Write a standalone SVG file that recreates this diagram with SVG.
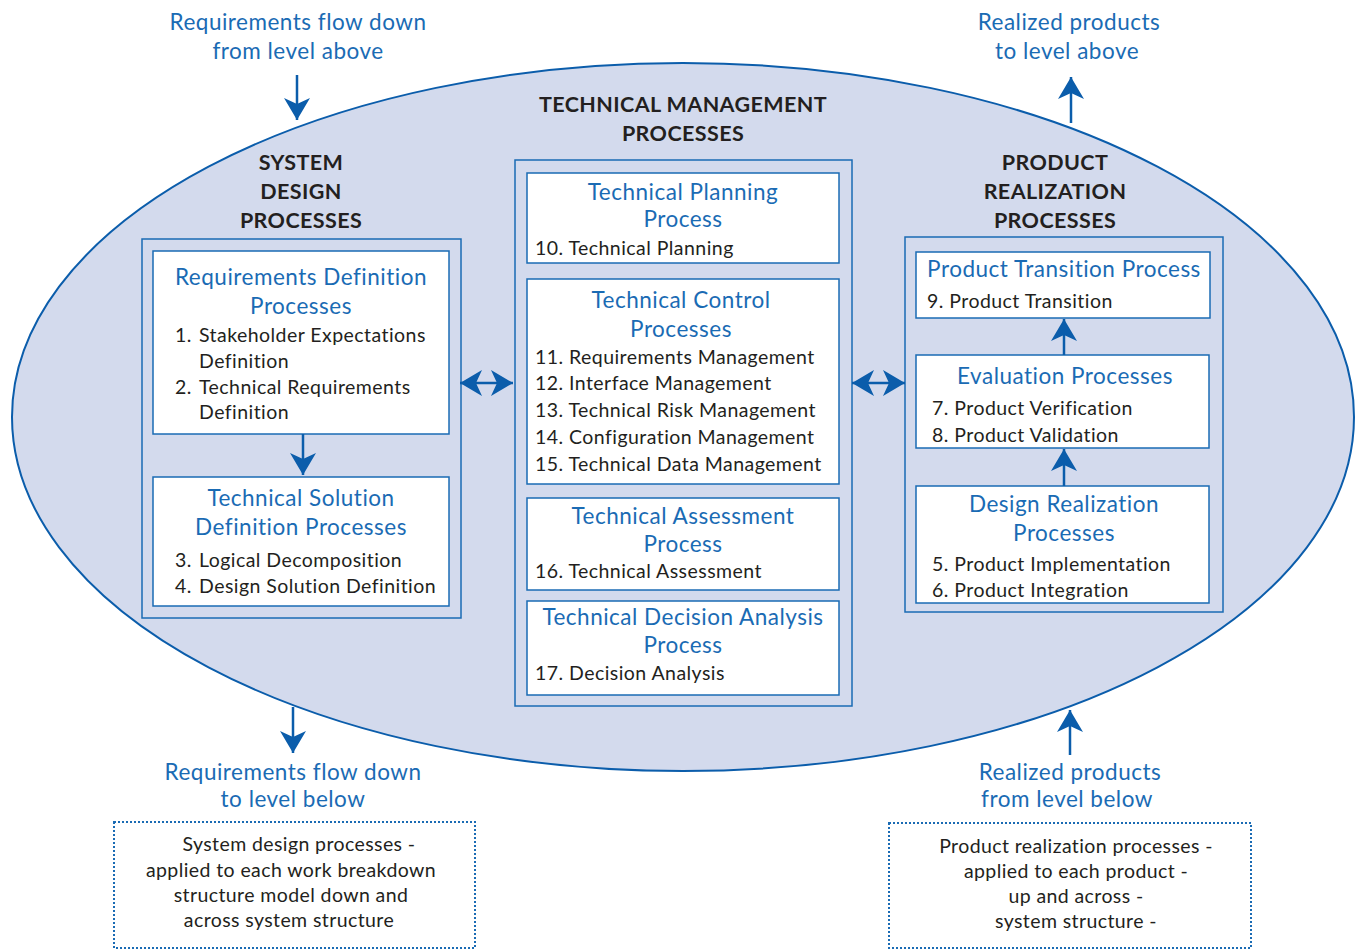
<svg xmlns="http://www.w3.org/2000/svg" width="1357" height="950" viewBox="0 0 1357 950">
<defs>
<marker id="ah" markerUnits="userSpaceOnUse" viewBox="0 0 22 26" refX="22" refY="13" markerWidth="22" markerHeight="26" orient="auto-start-reverse">
<path d="M0,0 L22,13 L0,26 L6,13 Z" fill="#0b5dab"/>
</marker>
<style>
.t{font-family:Lato,"Liberation Sans",sans-serif;}
.blue{fill:#1a6bb4;font-size:22.5px;letter-spacing:0.5px;}
.head{fill:#231f20;font-size:21.5px;font-weight:bold;letter-spacing:0.4px;}
.item{fill:#231f20;font-size:19.5px;letter-spacing:0.45px;}
.note{fill:#231f20;font-size:19.5px;letter-spacing:0.4px;}
.frame{fill:#d3daed;stroke:#1a6bb4;stroke-width:1.5;}
.box{fill:#ffffff;stroke:#1a6bb4;stroke-width:1.5;}
.dot{fill:#ffffff;stroke:#1a6bb4;stroke-width:2;stroke-dasharray:2 2;}
.conn{stroke:#0b5dab;stroke-width:2.5;fill:none;marker-end:url(#ah);}
.dbl{stroke:#0b5dab;stroke-width:2.5;fill:none;marker-end:url(#ah);marker-start:url(#ah);}
</style>
</defs>
<rect width="1357" height="950" fill="#ffffff"/>
<g id="ellipse">
<ellipse cx="683" cy="417" rx="671" ry="354" fill="#d3daed" stroke="#0b5dab" stroke-width="2"/>
</g>
<g id="top-left-label" class="t">
<text class="blue" text-anchor="middle" x="298" y="30">Requirements flow down</text>
<text class="blue" text-anchor="middle" x="298" y="59">from level above</text>
</g>
<g id="top-right-label" class="t">
<text class="blue" text-anchor="middle" x="1069" y="30">Realized products</text>
<text class="blue" text-anchor="middle" x="1067" y="59">to level above</text>
</g>
<g id="tech-mgmt-title" class="t">
<text class="head" text-anchor="middle" x="683" y="112">TECHNICAL MANAGEMENT</text>
<text class="head" text-anchor="middle" x="683" y="141">PROCESSES</text>
</g>
<g id="system-design" class="t">
<text class="head" text-anchor="middle" x="301" y="170">SYSTEM</text>
<text class="head" text-anchor="middle" x="301" y="199">DESIGN</text>
<text class="head" text-anchor="middle" x="301" y="228">PROCESSES</text>
<rect class="frame" x="142" y="239" width="319" height="379"/>
</g>
<g id="req-def" class="t">
<rect class="box" x="153" y="251" width="296" height="183"/>
<text class="blue" text-anchor="middle" x="301" y="285">Requirements Definition</text>
<text class="blue" text-anchor="middle" x="301" y="314">Processes</text>
<text class="item" x="175" y="342">1.</text><text class="item" x="199" y="342">Stakeholder Expectations</text>
<text class="item" x="199" y="368">Definition</text>
<text class="item" x="175" y="394">2.</text><text class="item" x="199" y="394">Technical Requirements</text>
<text class="item" x="199" y="419">Definition</text>
</g>
<g id="tech-sol" class="t">
<rect class="box" x="153" y="477" width="296" height="129"/>
<text class="blue" text-anchor="middle" x="301" y="506">Technical Solution</text>
<text class="blue" text-anchor="middle" x="301" y="535">Definition Processes</text>
<text class="item" x="175" y="567">3.</text><text class="item" x="199" y="567">Logical Decomposition</text>
<text class="item" x="175" y="593">4.</text><text class="item" x="199" y="593">Design Solution Definition</text>
</g>
<g id="tech-mgmt" class="t">
<rect class="frame" x="515" y="160" width="337" height="546"/>
</g>
<g id="tech-plan" class="t">
<rect class="box" x="527" y="173" width="312" height="90"/>
<text class="blue" text-anchor="middle" x="683" y="200">Technical Planning</text>
<text class="blue" text-anchor="middle" x="683" y="227">Process</text>
<text class="item" x="535" y="255">10. Technical Planning</text>
</g>
<g id="tech-control" class="t">
<rect class="box" x="527" y="279" width="312" height="205"/>
<text class="blue" text-anchor="middle" x="681" y="308">Technical Control</text>
<text class="blue" text-anchor="middle" x="681" y="337">Processes</text>
<text class="item" x="535" y="364">11. Requirements Management</text>
<text class="item" x="535" y="390">12. Interface Management</text>
<text class="item" x="535" y="417">13. Technical Risk Management</text>
<text class="item" x="535" y="444">14. Configuration Management</text>
<text class="item" x="535" y="471">15. Technical Data Management</text>
</g>
<g id="tech-assess" class="t">
<rect class="box" x="527" y="498" width="312" height="92"/>
<text class="blue" text-anchor="middle" x="683" y="524">Technical Assessment</text>
<text class="blue" text-anchor="middle" x="683" y="552">Process</text>
<text class="item" x="535" y="578">16. Technical Assessment</text>
</g>
<g id="tech-decision" class="t">
<rect class="box" x="527" y="601" width="312" height="94"/>
<text class="blue" text-anchor="middle" x="683" y="625">Technical Decision Analysis</text>
<text class="blue" text-anchor="middle" x="683" y="653">Process</text>
<text class="item" x="535" y="680">17. Decision Analysis</text>
</g>
<g id="product-realization" class="t">
<text class="head" text-anchor="middle" x="1055" y="170">PRODUCT</text>
<text class="head" text-anchor="middle" x="1055" y="199">REALIZATION</text>
<text class="head" text-anchor="middle" x="1055" y="228">PROCESSES</text>
<rect class="frame" x="905" y="237" width="318" height="375"/>
</g>
<g id="prod-transition" class="t">
<rect class="box" x="916" y="252" width="294" height="66"/>
<text class="blue" text-anchor="middle" x="1064" y="277">Product Transition Process</text>
<text class="item" x="927" y="308">9. Product Transition</text>
</g>
<g id="evaluation" class="t">
<rect class="box" x="916" y="355" width="293" height="93"/>
<text class="blue" text-anchor="middle" x="1065" y="384">Evaluation Processes</text>
<text class="item" x="932" y="415">7. Product Verification</text>
<text class="item" x="932" y="442">8. Product Validation</text>
</g>
<g id="design-realization" class="t">
<rect class="box" x="916" y="486" width="293" height="117"/>
<text class="blue" text-anchor="middle" x="1064" y="512">Design Realization</text>
<text class="blue" text-anchor="middle" x="1064" y="541">Processes</text>
<text class="item" x="932" y="571">5. Product Implementation</text>
<text class="item" x="932" y="597">6. Product Integration</text>
</g>
<g id="bottom-left" class="t">
<text class="blue" text-anchor="middle" x="293" y="780">Requirements flow down</text>
<text class="blue" text-anchor="middle" x="293" y="807">to level below</text>
<rect class="dot" x="114" y="822" width="361" height="126"/>
<text class="note" text-anchor="middle" x="299" y="851">System design processes -</text>
<text class="note" text-anchor="middle" x="291" y="877">applied to each work breakdown</text>
<text class="note" text-anchor="middle" x="291" y="902">structure model down and</text>
<text class="note" text-anchor="middle" x="289" y="927">across system structure</text>
</g>
<g id="bottom-right" class="t">
<text class="blue" text-anchor="middle" x="1070" y="780">Realized products</text>
<text class="blue" text-anchor="middle" x="1067" y="807">from level below</text>
<rect class="dot" x="889" y="823" width="362" height="125"/>
<text class="note" text-anchor="middle" x="1076" y="853">Product realization processes -</text>
<text class="note" text-anchor="middle" x="1076" y="878">applied to each product -</text>
<text class="note" text-anchor="middle" x="1076" y="903">up and across -</text>
<text class="note" text-anchor="middle" x="1076" y="928">system structure -</text>
</g>
<g id="connectors">
<line class="conn" x1="297" y1="75" x2="297" y2="120"/>
<line class="conn" x1="1071" y1="123" x2="1071" y2="77"/>
<line class="conn" x1="293" y1="707" x2="293" y2="753"/>
<line class="conn" x1="1070" y1="755" x2="1070" y2="710"/>
<line class="conn" x1="303" y1="434" x2="303" y2="475"/>
<line class="conn" x1="1064" y1="355" x2="1064" y2="319"/>
<line class="conn" x1="1064" y1="486" x2="1064" y2="449"/>
<line class="dbl" x1="460" y1="383" x2="513" y2="383"/>
<line class="dbl" x1="852" y1="383" x2="905" y2="383"/>
</g>
</svg>
